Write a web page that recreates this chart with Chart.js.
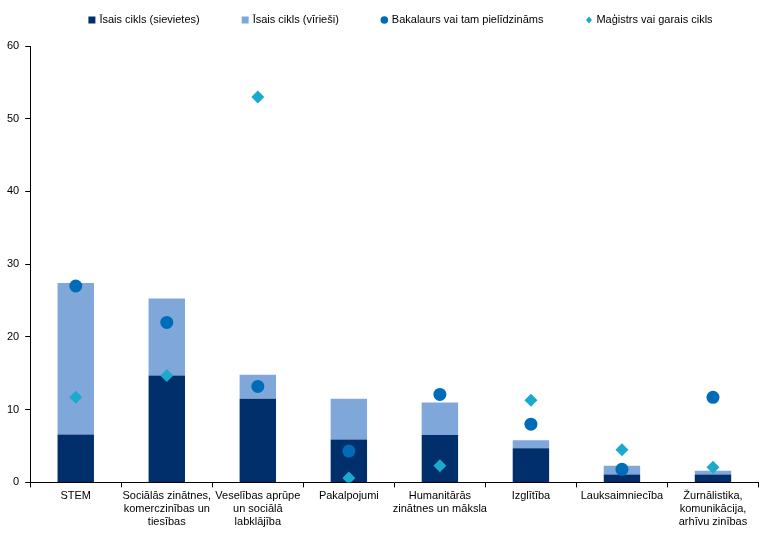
<!DOCTYPE html>
<html lang="lv">
<head>
    <meta charset="UTF-8">
    <title>Īsais cikls</title>
    <script src="https://cdn.jsdelivr.net/npm/chart.js"></script>
    <style>
        body { margin: 0; background: #fff; }
        #wrap { width: 765px; height: 536px; }
    </style>
</head>
<body>
    <div id="wrap"><canvas id="chart"></canvas></div>

    <script>
        // categories (multi-line labels)
        var categories = [
            ['STEM'],
            ['Sociālās zinātnes,', 'komerczinības un', 'tiesības'],
            ['Veselības aprūpe', 'un sociālā', 'labklājība'],
            ['Pakalpojumi'],
            ['Humanitārās', 'zinātnes un māksla'],
            ['Izglītība'],
            ['Lauksaimniecība'],
            ['Žurnālistika,', 'komunikācija,', 'arhīvu zinības']
        ];

        // series values (%)
        var shortWomen = [6.6, 14.7, 11.5, 5.9, 6.5, 4.7, 1.1, 1.1];
        var shortMen = [20.8, 10.6, 3.3, 5.6, 4.5, 1.1, 1.2, 0.5];
        var bachelor = [27.0, 22.0, 13.2, 4.3, 12.1, 8.0, 1.8, 11.7];
        var master = [11.7, 14.7, 53.0, 0.6, 2.3, 11.3, 4.5, 2.1];

        var yTicks = [0, 10, 20, 30, 40, 50, 60];

        var font = { family: "'Liberation Sans', Arial, sans-serif", size: 11 };
        Chart.defaults.font = font;
        Chart.defaults.color = '#000';

        // simple legend drawn in dataset order along the top
        var topLegend = {
            id: 'topLegend',
            afterDraw: function (chart) {
                var c = chart.ctx;
                var gap = 42, box = 7;
                c.save();
                c.font = '11px ' + font.family;
                c.textBaseline = 'middle';
                var items = chart.data.datasets.map(function (ds) {
                    return { ds: ds, w: box + 4 + c.measureText(ds.label).width };
                });
                var total = items.reduce(function (s, it) { return s + it.w; }, 0) + gap * (items.length - 1);
                var x = (chart.width - total) / 2 + 18;
                var y = 20;
                items.forEach(function (it) {
                    var ds = it.ds;
                    c.fillStyle = ds.backgroundColor;
                    if (ds.pointStyle === 'circle') {
                        c.beginPath();
                        c.arc(x + 3.5, y, 3.8, 0, Math.PI * 2);
                        c.fill();
                    } else if (ds.pointStyle === 'rectRot') {
                        c.beginPath();
                        c.moveTo(x + 3.5, y - 3.5);
                        c.lineTo(x + 6.5, y);
                        c.lineTo(x + 3.5, y + 3.5);
                        c.lineTo(x + 0.5, y);
                        c.closePath();
                        c.fill();
                    } else {
                        c.fillRect(x, y - 3.5, box, box);
                    }
                    c.fillStyle = '#000';
                    c.fillText(ds.label, x + box + 4, y);
                    x += it.w + gap;
                });
                c.restore();
            }
        };

        var ctx = document.getElementById('chart').getContext('2d');
        var chart = new Chart(ctx, {
            type: 'bar',
            data: {
                labels: categories,
                datasets: [
                    {
                        label: 'Īsais cikls (sievietes)',
                        data: shortWomen,
                        backgroundColor: '#002F6C',
                        stack: 'bars',
                        pointStyle: 'rect',
                        barPercentage: 0.4,
                        categoryPercentage: 1,
                        order: 3
                    },
                    {
                        label: 'Īsais cikls (vīrieši)',
                        data: shortMen,
                        backgroundColor: '#7FA7D9',
                        stack: 'bars',
                        pointStyle: 'rect',
                        barPercentage: 0.4,
                        categoryPercentage: 1,
                        order: 3
                    },
                    {
                        type: 'line',
                        label: 'Bakalaurs vai tam pielīdzināms',
                        data: bachelor,
                        showLine: false,
                        stack: 'bach',
                        pointStyle: 'circle',
                        pointRadius: 6.5,
                        pointHoverRadius: 6.5,
                        backgroundColor: '#006BB6',
                        borderColor: '#006BB6',
                        borderWidth: 0,
                        order: 1
                    },
                    {
                        type: 'line',
                        label: 'Maģistrs vai garais cikls',
                        data: master,
                        showLine: false,
                        stack: 'mag',
                        pointStyle: 'rectRot',
                        pointRadius: 6.5,
                        pointHoverRadius: 6.5,
                        backgroundColor: '#1BAACD',
                        borderColor: '#1BAACD',
                        borderWidth: 0,
                        order: 0
                    }
                ]
            },
            options: {
                responsive: true,
                maintainAspectRatio: false,
                animation: false,
                layout: { padding: { left: 1, right: 4, top: 46, bottom: 5 } },
                plugins: {
                    tooltip: { enabled: false },
                    legend: { display: false }
                },
                scales: {
                    x: {
                        stacked: true,
                        grid: {
                            offset: true,
                            drawOnChartArea: false,
                            drawTicks: true,
                            tickLength: 5,
                            color: '#000'
                        },
                        border: { color: '#000', width: 1 },
                        ticks: { maxRotation: 0, autoSkip: false, padding: 2, font: font }
                    },
                    y: {
                        stacked: true,
                        min: 0,
                        max: 60,
                        afterBuildTicks: function (axis) {
                            axis.ticks = yTicks.map(function (v) { return { value: v }; });
                        },
                        grid: {
                            drawOnChartArea: false,
                            drawTicks: true,
                            tickLength: 5,
                            color: '#000'
                        },
                        border: { color: '#000', width: 1 },
                        ticks: { padding: 6, font: font }
                    }
                }
            },
            plugins: [topLegend]
        });
    </script>
</body>
</html>
